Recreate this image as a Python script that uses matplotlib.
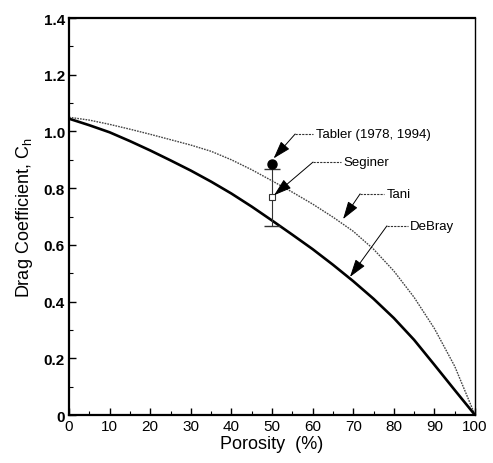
import matplotlib
matplotlib.use("Agg")
import matplotlib.pyplot as plt
from matplotlib.ticker import MultipleLocator

# Data
porosity = [0, 5, 10, 15, 20, 25, 30, 35, 40, 45, 50, 55, 60, 65, 70, 75, 80, 85, 90, 95, 100]
tani = [1.05, 1.04, 1.025, 1.008, 0.99, 0.971, 0.952, 0.93, 0.90, 0.865, 0.826, 0.786,
        0.744, 0.698, 0.648, 0.585, 0.508, 0.415, 0.305, 0.172, 0.0]
debray = [1.045, 1.022, 0.997, 0.966, 0.933, 0.898, 0.862, 0.823, 0.781, 0.735, 0.686,
          0.636, 0.585, 0.53, 0.472, 0.41, 0.342, 0.265, 0.177, 0.088, 0.0]

tabler_x, tabler_y = 50, 0.885
seginer_x, seginer_y = 50, 0.768
err_low, err_high = 0.668, 0.868

# annotation labels: (text, text pos, bend pos, arrow tip)
labels = ["Tabler (1978, 1994)", "Seginer", "Tani", "DeBray"]
label_pos = [(60.8, 0.991), (67.6, 0.892), (78.3, 0.78), (84.0, 0.667)]
bend_pos = [(55.7, 0.991), (60.1, 0.892), (71.7, 0.78), (78.3, 0.667)]
tip_pos = [(50.4, 0.905), (50.5, 0.775), (67.5, 0.691), (69.2, 0.487)]

xticks = list(range(0, 101, 10))
yticks = [0, 0.2, 0.4, 0.6, 0.8, 1.0, 1.2, 1.4]
yticklabels = ["0", "0.2", "0.4", "0.6", "0.8", "1.0", "1.2", "1.4"]

plt.rcParams['font.family'] = ['Liberation Sans', 'DejaVu Sans']

fig = plt.figure(figsize=(4.93, 4.64), dpi=100)
ax = fig.add_axes([0.14, 0.1034, 0.8235, 0.8556])

ax.plot(porosity, tani, color='#444444', lw=1.0, linestyle=(0, (1.2, 0.8)))
ax.plot(porosity, debray, color='black', lw=1.9)

# error bar and points
ax.errorbar([seginer_x], [(err_low + err_high) / 2],
            yerr=[[(err_high - err_low) / 2], [(err_high - err_low) / 2]],
            fmt='none', ecolor='#333333', elinewidth=0.8, capsize=6, capthick=1.0)
ax.plot([tabler_x], [tabler_y], 'o', color='black', ms=6.5)
ax.plot([seginer_x], [seginer_y], 's', mfc='white', mec='#333333', ms=4, mew=0.8)

for txt, lp, bp, tp in zip(labels, label_pos, bend_pos, tip_pos):
    ax.plot([bp[0], lp[0] - 0.6], [bp[1], bp[1]], color='#333333', lw=0.8,
            linestyle=(0, (2, 1)))
    ax.annotate('', xy=tp, xytext=bp,
                arrowprops=dict(arrowstyle='-|>,head_length=1.1,head_width=0.35',
                                color='black', lw=0.7, shrinkA=0, shrinkB=0))
    ax.text(lp[0], lp[1], txt, fontsize=9.5, ha='left', va='center')

ax.set_xlim(0, 100)
ax.set_ylim(0, 1.4)
ax.set_xticks(xticks)
ax.set_xticklabels([str(t) for t in xticks])
ax.set_yticks(yticks)
ax.set_yticklabels(yticklabels)
ax.xaxis.set_minor_locator(MultipleLocator(5))
ax.yaxis.set_minor_locator(MultipleLocator(0.1))
ax.tick_params(axis='both', which='both', direction='in', top=False, right=False)
ax.tick_params(axis='both', which='major', length=5, width=1, labelsize=11, pad=3)
ax.tick_params(axis='both', which='minor', length=3, width=0.8)
for lab in ax.get_yticklabels():
    lab.set_fontweight('bold')

for side in ['left', 'bottom', 'top']:
    ax.spines[side].set_linewidth(1.6)
ax.spines['right'].set_linewidth(1.0)

ax.set_xlabel('Porosity  (%)', fontsize=13, labelpad=1)
ax.set_ylabel(r'Drag Coefficient, C$_\mathregular{h}$', fontsize=13, labelpad=6)

fig.savefig('out.png', dpi=100)
